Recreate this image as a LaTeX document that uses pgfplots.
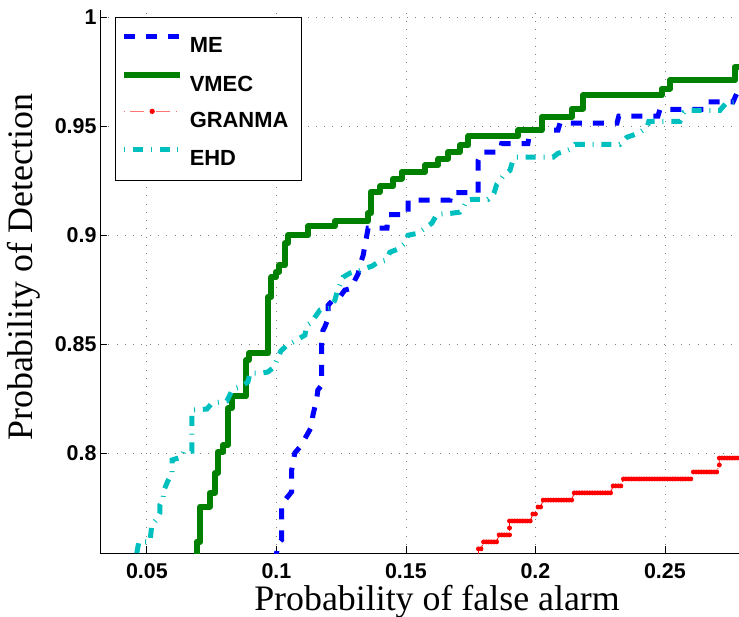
\documentclass[border=0pt]{standalone}
\usepackage{fontspec}
\setmainfont{Liberation Serif}
\setsansfont{Liberation Sans}
\usepackage{pgfplots}
\pgfplotsset{compat=1.18}
\definecolor{mgreen}{rgb}{0,0.5,0}
\definecolor{mcyan}{rgb}{0,0.75,0.75}
\begin{document}
\begin{tikzpicture}
\begin{axis}[
  scale only axis, width=639bp, height=543bp,
  xmin=0.0319, xmax=0.2786, ymin=0.7541, ymax=1.0034,
  axis x line*=bottom, axis y line*=left,
  axis line style={-, line width=0.8bp},
  tick align=inside, major tick length=7bp,
  tick style={line width=0.8bp, black},
  xtick={0.05,0.1,0.15,0.2,0.25}, xticklabels={0.05,0.1,0.15,0.2,0.25},
  ytick={0.8,0.85,0.9,0.95,1}, yticklabels={0.8,0.85,0.9,0.95,1},
  ticklabel style={font=\sffamily\bfseries\fontsize{21.5}{22}\selectfont},
  xticklabel style={yshift=-7bp},
  grid=major,
  major grid style={gray, line width=0.8bp, dash pattern=on 0.8bp off 7.5bp},
  xlabel={Probability of false alarm}, ylabel={Probability of Detection},
  label style={font=\fontsize{36}{36}\selectfont},
  xlabel style={at={(axis description cs:0.5274,-0.1050)}, anchor=base},
  ylabel style={at={(axis description cs:-0.1049,0.526)}, anchor=base},
  legend style={at={(axis description cs:0.0203,0.9866)}, anchor=north west,
    draw=none, fill=none,
    font=\sffamily\bfseries\fontsize{22}{22}\selectfont,
    inner xsep=8bp, inner ysep=8.6bp, row sep=11.6bp, column sep=6.6bp,
    nodes={inner sep=0pt, text height=16bp, text depth=0pt}},
  legend cell align=left,
  legend image code/.code={
    \path (0bp,0bp) (56bp,16bp);
    \draw[mark repeat=2,mark phase=2,#1] plot coordinates {(0bp,8bp) (28bp,8bp) (56bp,8bp)};},
]
\addplot[blue, line width=5bp, dash pattern=on 11bp off 11bp] coordinates {
(0.1001,0.7500) (0.1001,0.7541) (0.1004,0.7578) (0.1020,0.7601) (0.1020,0.7754) (0.1033,0.7784)
(0.1059,0.7822) (0.1059,0.7922) (0.1071,0.8000) (0.1091,0.8028) (0.1103,0.8052) (0.1118,0.8083)
(0.1136,0.8121) (0.1141,0.8174) (0.1155,0.8243) (0.1160,0.8289) (0.1175,0.8312) (0.1175,0.8503)
(0.1180,0.8564) (0.1187,0.8579) (0.1200,0.8619) (0.1200,0.8679) (0.1218,0.8702) (0.1245,0.8717)
(0.1264,0.8748) (0.1290,0.8756) (0.1303,0.8794) (0.1316,0.8824) (0.1322,0.8862) (0.1335,0.8908)
(0.1342,0.8954) (0.1348,0.8992) (0.1354,0.9032) (0.1427,0.9032) (0.1431,0.9094) (0.1508,0.9094)
(0.1509,0.9161) (0.1670,0.9161) (0.1674,0.9195) (0.1779,0.9195) (0.1779,0.9344) (0.1793,0.9382)
(0.1863,0.9382) (0.1870,0.9421) (0.1971,0.9421) (0.1979,0.9482) (0.2087,0.9482) (0.2095,0.9515)
(0.2315,0.9515) (0.2322,0.9547) (0.2473,0.9547) (0.2481,0.9578) (0.2654,0.9578) (0.2661,0.9612)
(0.2763,0.9612) (0.2777,0.9650) (0.2800,0.9650)
};
\addlegendentry{ME}
\addplot[mgreen, line width=6bp, line join=round] coordinates {
(0.0692,0.7500) (0.0692,0.7593) (0.0707,0.7593) (0.0707,0.7754) (0.0743,0.7754) (0.0743,0.7817)
(0.0763,0.7817) (0.0763,0.7908) (0.0774,0.7908) (0.0774,0.8006) (0.0795,0.8006) (0.0795,0.8037)
(0.0813,0.8037) (0.0813,0.8206) (0.0827,0.8206) (0.0827,0.8261) (0.0883,0.8261) (0.0883,0.8427)
(0.0894,0.8427) (0.0894,0.8457) (0.0968,0.8457) (0.0968,0.8717) (0.0981,0.8717) (0.0981,0.8807)
(0.0998,0.8807) (0.0998,0.8832) (0.1011,0.8832) (0.1011,0.8862) (0.1033,0.8862) (0.1033,0.8963)
(0.1046,0.8963) (0.1046,0.9000) (0.1123,0.9000) (0.1123,0.9041) (0.1226,0.9041) (0.1226,0.9064)
(0.1353,0.9064) (0.1353,0.9100) (0.1365,0.9100) (0.1365,0.9199) (0.1400,0.9199) (0.1400,0.9225)
(0.1451,0.9225) (0.1451,0.9260) (0.1483,0.9260) (0.1483,0.9290) (0.1573,0.9290) (0.1573,0.9321)
(0.1625,0.9321) (0.1625,0.9352) (0.1663,0.9352) (0.1663,0.9382) (0.1708,0.9382) (0.1708,0.9413)
(0.1741,0.9413) (0.1741,0.9454) (0.1934,0.9454) (0.1934,0.9482) (0.2024,0.9482) (0.2024,0.9543)
(0.2140,0.9543) (0.2140,0.9581) (0.2183,0.9581) (0.2183,0.9642) (0.2487,0.9642) (0.2487,0.9673)
(0.2519,0.9673) (0.2519,0.9711) (0.2770,0.9711) (0.2770,0.9772) (0.2800,0.9772)
};
\addlegendentry{VMEC}
\addplot[red, line width=0.8bp, dash pattern=on 1bp off 5bp on 14bp off 6bp,
  mark=*, mark size=2bp, mark options={solid, fill=red, draw=red},
  legend image post style={draw=red!55, line width=1.2bp}] coordinates {
(0.178,0.7500)
(0.178,0.7560) (0.179,0.7560)
(0.180,0.7592) (0.181,0.7592) (0.182,0.7592) (0.183,0.7592) (0.184,0.7592) (0.185,0.7592)
(0.186,0.7624) (0.187,0.7624) (0.188,0.7624) (0.189,0.7624) (0.190,0.7624)
(0.190,0.7656)
(0.190,0.7688) (0.191,0.7688) (0.192,0.7688) (0.193,0.7688) (0.194,0.7688) (0.195,0.7688)
(0.196,0.7688) (0.197,0.7688) (0.198,0.7688)
(0.199,0.7720) (0.200,0.7720)
(0.201,0.7752) (0.202,0.7752)
(0.203,0.7784) (0.204,0.7784) (0.205,0.7784) (0.206,0.7784) (0.207,0.7784) (0.208,0.7784)
(0.209,0.7784) (0.210,0.7784) (0.211,0.7784) (0.212,0.7784) (0.213,0.7784) (0.214,0.7784)
(0.215,0.7817) (0.216,0.7817) (0.217,0.7817) (0.218,0.7817) (0.219,0.7817) (0.220,0.7817)
(0.221,0.7817) (0.222,0.7817) (0.223,0.7817) (0.224,0.7817) (0.225,0.7817) (0.226,0.7817)
(0.227,0.7817) (0.228,0.7817) (0.229,0.7817)
(0.230,0.7849) (0.231,0.7849) (0.232,0.7849) (0.233,0.7849)
(0.234,0.7881) (0.235,0.7881) (0.236,0.7881) (0.237,0.7881) (0.238,0.7881) (0.239,0.7881)
(0.240,0.7881) (0.241,0.7881) (0.242,0.7881) (0.243,0.7881) (0.244,0.7881) (0.245,0.7881)
(0.246,0.7881) (0.247,0.7881) (0.248,0.7881) (0.249,0.7881) (0.250,0.7881) (0.251,0.7881)
(0.252,0.7881) (0.253,0.7881) (0.254,0.7881) (0.255,0.7881) (0.256,0.7881) (0.257,0.7881)
(0.258,0.7881) (0.259,0.7881) (0.260,0.7881)
(0.261,0.7913) (0.262,0.7913) (0.263,0.7913) (0.264,0.7913) (0.265,0.7913) (0.266,0.7913)
(0.267,0.7913) (0.268,0.7913) (0.269,0.7913) (0.270,0.7913)
(0.271,0.7945) (0.271,0.7977)
(0.272,0.7977) (0.273,0.7977) (0.274,0.7977) (0.275,0.7977) (0.276,0.7977) (0.277,0.7977)
(0.278,0.7977)
};
\addlegendentry{GRANMA}
\addplot[mcyan, line width=5bp, dash pattern=on 1bp off 7.8bp on 10bp off 7.8bp] coordinates {
(0.0461,0.7500) (0.0461,0.7541) (0.0469,0.7592) (0.0512,0.7592) (0.0519,0.7670) (0.0539,0.7697)
(0.0550,0.7725) (0.0550,0.7761) (0.0562,0.7789) (0.0566,0.7830) (0.0581,0.7872) (0.0597,0.7908)
(0.0597,0.7968) (0.0635,0.7982) (0.0643,0.8009) (0.0674,0.8009) (0.0674,0.8197) (0.0732,0.8202)
(0.0751,0.8229) (0.0809,0.8239) (0.0820,0.8266) (0.0832,0.8294) (0.0859,0.8303) (0.0890,0.8326)
(0.0898,0.8367) (0.0944,0.8367) (0.0967,0.8372) (0.0990,0.8394) (0.1002,0.8427) (0.1017,0.8468)
(0.1041,0.8495) (0.1064,0.8509) (0.1091,0.8528) (0.1110,0.8541) (0.1118,0.8587) (0.1137,0.8601)
(0.1149,0.8624) (0.1168,0.8656) (0.1207,0.8665) (0.1226,0.8702) (0.1234,0.8739) (0.1245,0.8771)
(0.1257,0.8807) (0.1284,0.8826) (0.1322,0.8839) (0.1346,0.8849) (0.1369,0.8858) (0.1392,0.8876)
(0.1423,0.8885) (0.1438,0.8922) (0.1469,0.8936) (0.1496,0.8963) (0.1508,0.9000) (0.1546,0.9009)
(0.1573,0.9032) (0.1600,0.9055) (0.1620,0.9096) (0.1678,0.9101) (0.1708,0.9106) (0.1724,0.9133)
(0.1736,0.9161) (0.1759,0.9165) (0.1817,0.9165) (0.1840,0.9193) (0.1851,0.9234) (0.1875,0.9271)
(0.1902,0.9298) (0.1913,0.9344) (0.1925,0.9358) (0.2068,0.9358) (0.2087,0.9376) (0.2114,0.9385)
(0.2133,0.9394) (0.2153,0.9417) (0.2326,0.9417) (0.2353,0.9450) (0.2376,0.9459) (0.2403,0.9472)
(0.2431,0.9495) (0.2438,0.9523) (0.2558,0.9523) (0.2573,0.9564) (0.2589,0.9573) (0.2712,0.9573)
(0.2736,0.9606) (0.2800,0.9615)
};
\addlegendentry{EHD}
% legend frame, drawn by hand to get the reference's box size
\draw[black, line width=0.8bp, fill=white] (axis description cs:0.0246,0.9866) rectangle (axis description cs:0.3156,0.6869);
\coordinate (sw) at (rel axis cs:0,0);
\coordinate (ne) at (rel axis cs:1,1);
\end{axis}
\pgfresetboundingbox
\path[use as bounding box] ([xshift=-100bp,yshift=-64bp]sw) rectangle ([yshift=10bp]ne);
\end{tikzpicture}
\end{document}
